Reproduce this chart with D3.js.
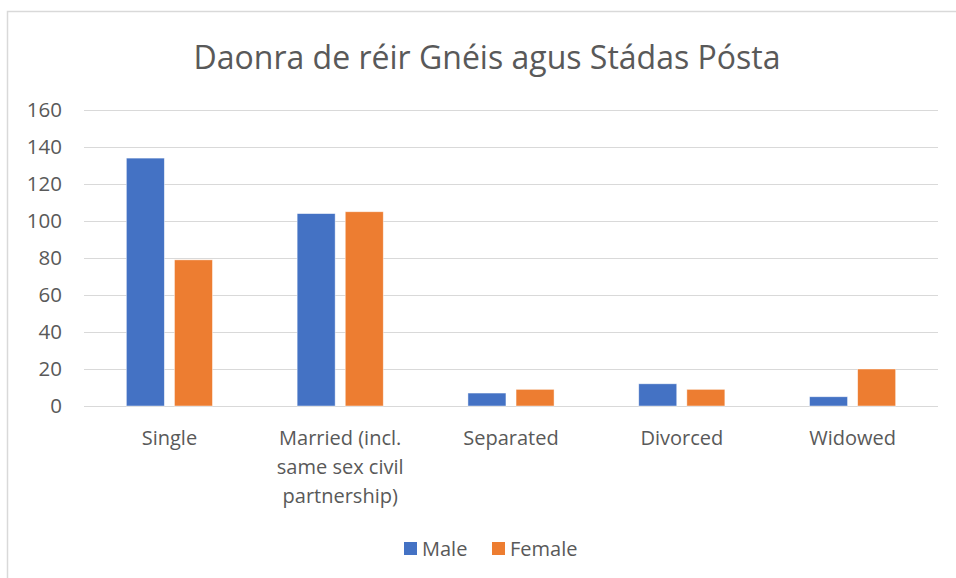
<!DOCTYPE html>
<html>

<head>
    <meta charset="utf-8">
    <style type="text/css">
    html,
    body {
        margin: 0px;
        padding: 0px;
        background: #fff;
        font-family: 'Open Sans', sans-serif;
    }

    .grid line {
        stroke: #d9d9d9;
        stroke-width: 1px;
        shape-rendering: crispEdges;
    }

    .tick-label,
    .cat-label,
    .legend text {
        fill: #595959;
        font-size: 20px;
    }

    .tick-label {
        font-size: 20.5px;
    }
    </style>
    <script src="https://d3js.org/d3.v7.min.js"></script>
    <title>Daonra de réir Gnéis agus Stádas Pósta</title>
</head>

<body>
</body>
<script type="text/javascript">
// data
var title = "Daonra de réir Gnéis agus Stádas Pósta";
var categories = ["Single", "Married (incl. same sex civil partnership)", "Separated", "Divorced", "Widowed"];
// how the long category names break across lines
var categoryLines = [
    ["Single"],
    ["Married (incl.", "same sex civil", "partnership)"],
    ["Separated"],
    ["Divorced"],
    ["Widowed"]
];
var series = ["Male", "Female"];
var maleValues = [134, 104, 7, 12, 5];
var femaleValues = [79, 105, 9, 9, 20];
var yTicks = [0, 20, 40, 60, 80, 100, 120, 140, 160];
var colours = ["#4472C4", "#ED7D31"];

// dimensions
var width = 956;
var height = 578;

var plot = {
    left: 84,
    right: 938,
    top: 110,
    bottom: 406
};

var svg = d3.select("body")
    .append("svg")
    .attr("width", width)
    .attr("height", height);

// chart frame (runs off the right and bottom of the picture)
svg.append("rect")
    .attr("x", 7.5)
    .attr("y", 11.5)
    .attr("width", width + 10)
    .attr("height", height + 10)
    .attr("fill", "#fff")
    .attr("stroke", "#d9d9d9")
    .attr("stroke-width", 1.5);

// title
svg.append("text")
    .attr("x", 487)
    .attr("y", 69)
    .attr("text-anchor", "middle")
    .style("font-size", "32px")
    .style("fill", "#595959")
    .text(title);

// scales
var y = d3.scaleLinear()
    .domain([0, 160])
    .range([plot.bottom, plot.top]);

var x0 = d3.scaleBand()
    .domain(categories)
    .range([plot.left, plot.right]);

var x1 = d3.scaleBand()
    .domain(series)
    .range([0, x0.bandwidth()])
    .paddingInner(0.21)
    .paddingOuter(0.88);

// gridlines
svg.append("g")
    .attr("class", "grid")
    .selectAll("line")
    .data(yTicks)
    .enter()
    .append("line")
    .attr("x1", plot.left)
    .attr("x2", plot.right)
    .attr("y1", function(d) {
        return Math.round(y(d)) + 0.5;
    })
    .attr("y2", function(d) {
        return Math.round(y(d)) + 0.5;
    });

// y tick labels
svg.append("g")
    .selectAll("text")
    .data(yTicks)
    .enter()
    .append("text")
    .attr("class", "tick-label")
    .attr("x", 62)
    .attr("y", function(d) {
        return y(d);
    })
    .attr("dy", "0.35em")
    .attr("text-anchor", "end")
    .text(function(d) {
        return d;
    });

// build rows for the bars
var rows = categories.map(function(c, i) {
    return {
        category: c,
        values: [
            { key: "Male", value: maleValues[i] },
            { key: "Female", value: femaleValues[i] }
        ]
    };
});

var colour = d3.scaleOrdinal()
    .domain(series)
    .range(colours);

var groups = svg.append("g")
    .selectAll("g")
    .data(rows)
    .enter()
    .append("g")
    .attr("transform", function(d) {
        return "translate(" + x0(d.category) + ",0)";
    });

groups.selectAll("rect")
    .data(function(d) {
        return d.values;
    })
    .enter()
    .append("rect")
    .attr("x", function(d) {
        return x1(d.key);
    })
    .attr("y", function(d) {
        return y(d.value);
    })
    .attr("width", x1.bandwidth())
    .attr("height", function(d) {
        return y(0) - y(d.value);
    })
    .attr("fill", function(d) {
        return colour(d.key);
    })
    .attr("stroke", "#fff")
    .attr("stroke-opacity", 0.6)
    .attr("stroke-width", 0.75);

// category labels
var catLabels = svg.append("g")
    .selectAll("text")
    .data(categories)
    .enter()
    .append("text")
    .attr("class", "cat-label")
    .attr("text-anchor", "middle")
    .attr("x", function(d) {
        return x0(d) + x0.bandwidth() / 2;
    })
    .attr("y", 445);

catLabels.each(function(d, i) {
    var t = d3.select(this);
    categoryLines[i].forEach(function(line, j) {
        t.append("tspan")
            .attr("x", x0(d) + x0.bandwidth() / 2)
            .attr("y", 445 + j * 29)
            .text(line);
    });
});

// legend
var legend = svg.append("g")
    .attr("class", "legend");

var legendX = [404, 492];

series.forEach(function(s, i) {
    legend.append("rect")
        .attr("x", legendX[i])
        .attr("y", 542)
        .attr("width", 13)
        .attr("height", 13)
        .attr("fill", colour(s));
    legend.append("text")
        .attr("x", legendX[i] + 18)
        .attr("y", 549)
        .attr("dy", "0.35em")
        .text(s);
});
</script>

</html>
